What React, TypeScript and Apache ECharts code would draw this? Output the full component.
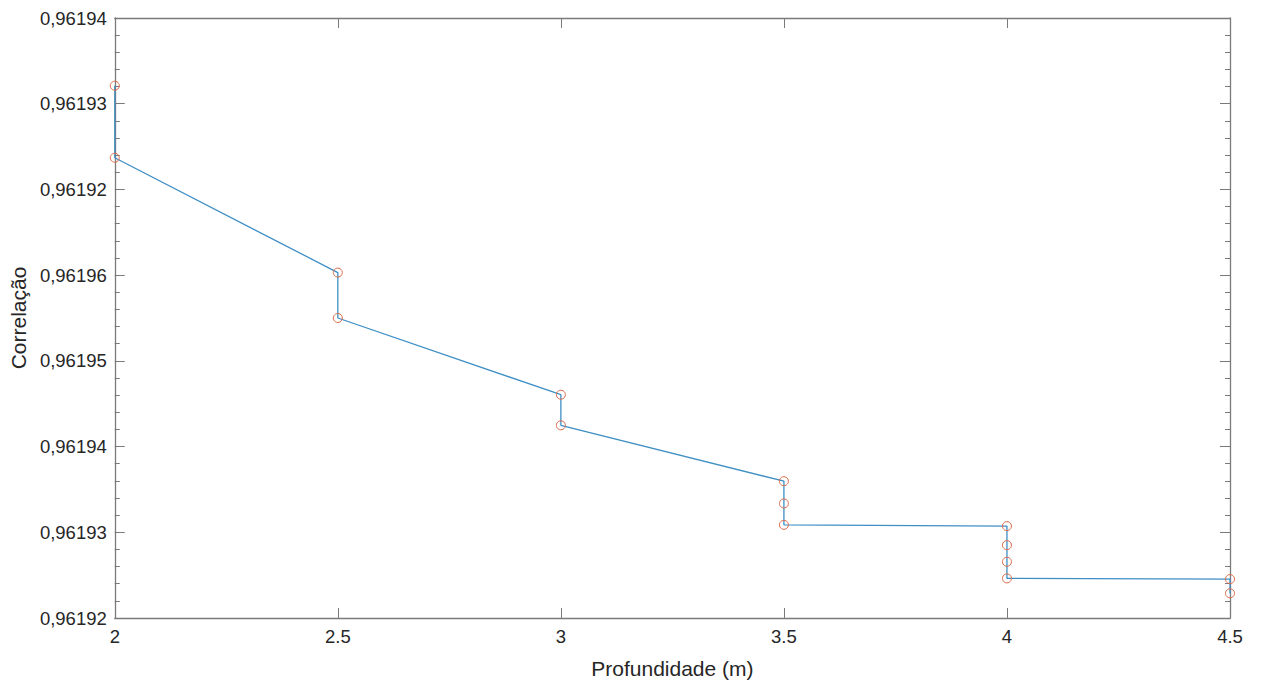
import React, { useEffect, useRef } from "react";
import * as echarts from "echarts";

// Depth (m)
const depth = [2, 2, 2.5, 2.5, 3, 3, 3.5, 3.5, 3.5, 4, 4, 4, 4, 4.5, 4.5];
// Correlation, expressed in tick-step units above the bottom of the axis
const correlation = [6.21, 5.37, 4.03, 3.5, 2.605, 2.248, 1.596, 1.336, 1.087, 1.072, 0.85, 0.656, 0.462, 0.454, 0.288];
// Y tick labels, bottom to top, as printed
const yTickLabels = ["0,96192", "0,96193", "0,96194", "0,96195", "0,96196", "0,96192", "0,96193", "0,96194"];
const xTicks = [2, 2.5, 3, 3.5, 4, 4.5];

const AXIS_COLOR = "#7a7a7a";
const TEXT_COLOR = "#262626";
const FONT = "'Liberation Sans', Arial, Helvetica, sans-serif";

export default function App() {
  const ref = useRef<HTMLDivElement>(null);
  useEffect(() => {
    if (!ref.current) return;
    const chart = echarts.init(ref.current, undefined, { renderer: "svg" });
    const pts = depth.map((d, i) => [d, correlation[i]]);
    const xBase = {
      type: "value" as const,
      min: 2,
      max: 4.5,
      interval: 0.5,
      axisLine: { show: true, onZero: false, lineStyle: { color: AXIS_COLOR, width: 1.3 } },
      axisTick: { show: true, inside: true, length: 10, lineStyle: { color: AXIS_COLOR, width: 1 } },
      splitLine: { show: false },
    };
    const yBase = {
      type: "value" as const,
      min: 0,
      max: 7,
      interval: 1,
      axisLine: { show: true, onZero: false, lineStyle: { color: AXIS_COLOR, width: 1.3 } },
      axisTick: { show: true, inside: true, length: 10, lineStyle: { color: AXIS_COLOR, width: 1 } },
      minorTick: { show: true, splitNumber: 5, length: 5, lineStyle: { color: AXIS_COLOR, width: 1 } },
      splitLine: { show: false },
      minorSplitLine: { show: false },
    };
    chart.setOption({
      animation: false,
      backgroundColor: "#ffffff",
      grid: { left: 112, right: 32, top: 18, bottom: 65, containLabel: false },
      xAxis: [
        {
          ...xBase,
          position: "bottom",
          name: "Profundidade (m)",
          nameLocation: "middle",
          nameGap: 40,
          nameTextStyle: { color: TEXT_COLOR, fontSize: 21, fontFamily: FONT },
          axisLabel: {
            color: TEXT_COLOR,
            fontSize: 18.5,
            fontFamily: FONT,
            margin: 9,
            formatter: (v: number) => (xTicks.includes(v) ? String(v) : ""),
          },
        },
        { ...xBase, position: "top", axisLabel: { show: false } },
      ],
      yAxis: [
        {
          ...yBase,
          position: "left",
          name: "Correlação",
          nameLocation: "middle",
          nameGap: 82,
          nameRotate: 90,
          nameTextStyle: { color: TEXT_COLOR, fontSize: 21, fontFamily: FONT },
          axisLabel: {
            color: TEXT_COLOR,
            fontSize: 18.5,
            fontFamily: FONT,
            margin: 8,
            formatter: (v: number) => yTickLabels[Math.round(v)] ?? "",
          },
        },
        { ...yBase, position: "right", axisLabel: { show: false } },
      ],
      series: [
        {
          type: "line",
          data: pts,
          showSymbol: false,
          clip: false,
          lineStyle: { color: "#3f8fc5", width: 1.3 },
          z: 3,
        },
        {
          type: "scatter",
          data: pts,
          symbol: "circle",
          symbolSize: 9,
          clip: false,
          itemStyle: { color: "rgba(255,255,255,0)", opacity: 1, borderColor: "#dc6a48", borderWidth: 1 },
          z: 4,
        },
      ],
    });
    return () => chart.dispose();
  }, []);
  return (
    <div
      ref={ref}
      style={{ position: "fixed", left: 0, top: 0, width: 1262, height: 684, background: "#fff" }}
    />
  );
}
